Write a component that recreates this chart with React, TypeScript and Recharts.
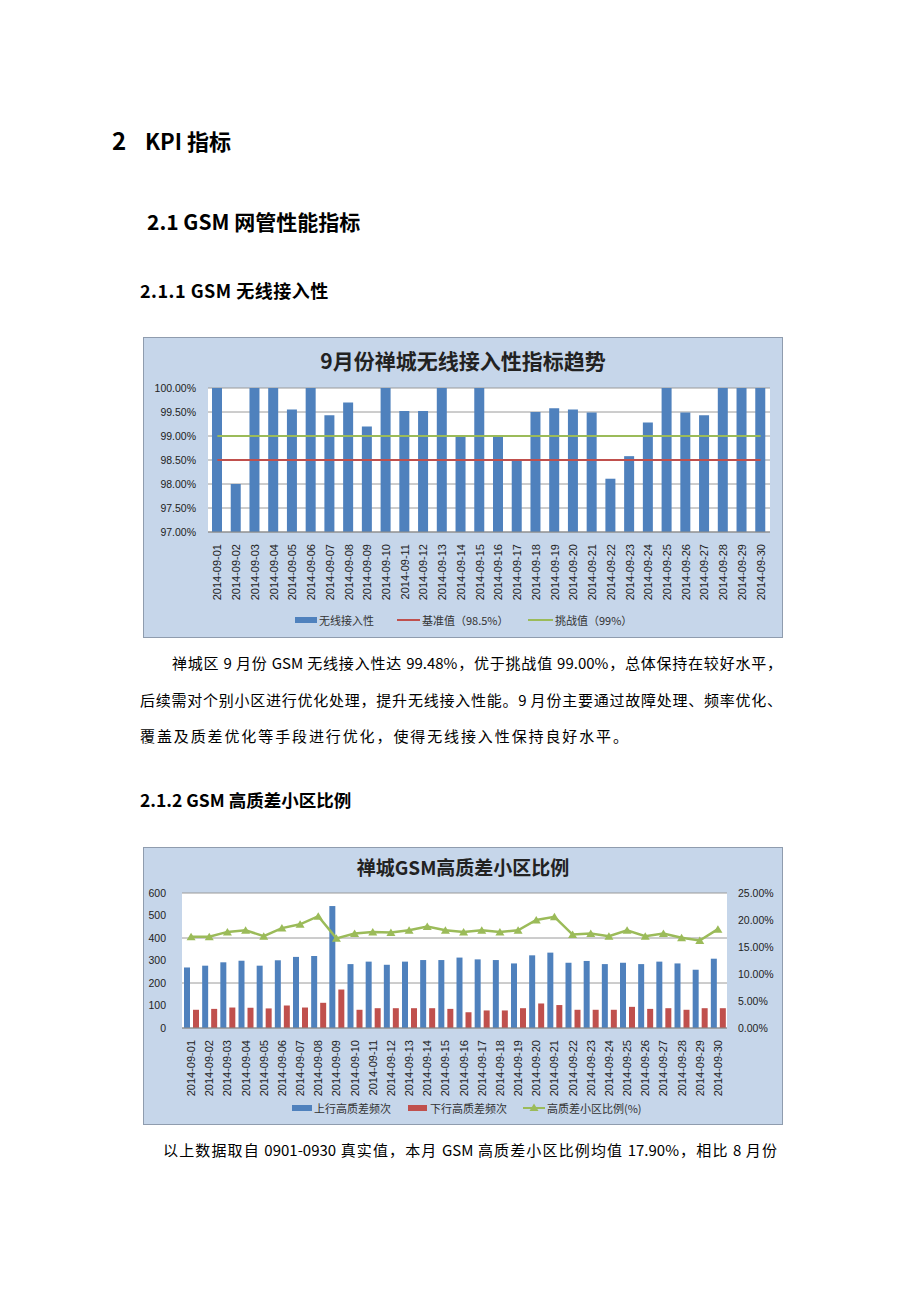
import React from 'react';
import { ComposedChart, Bar, Line, XAxis, YAxis, CartesianGrid, Legend } from 'recharts';

const dates = [
  '2014-09-01', '2014-09-02', '2014-09-03', '2014-09-04', '2014-09-05', '2014-09-06',
  '2014-09-07', '2014-09-08', '2014-09-09', '2014-09-10', '2014-09-11', '2014-09-12',
  '2014-09-13', '2014-09-14', '2014-09-15', '2014-09-16', '2014-09-17', '2014-09-18',
  '2014-09-19', '2014-09-20', '2014-09-21', '2014-09-22', '2014-09-23', '2014-09-24',
  '2014-09-25', '2014-09-26', '2014-09-27', '2014-09-28', '2014-09-29', '2014-09-30',
];

// Chart 1: wireless access rate (%)
const accessRate = [
  100, 98.0, 100, 100, 99.55, 100, 99.43, 99.7, 99.2, 100,
  99.52, 99.52, 100, 98.99, 100, 99.02, 98.5, 99.5, 99.58, 99.55,
  99.49, 98.11, 98.58, 99.28, 100, 99.49, 99.43, 100, 100, 100,
];
const BASELINE = 98.5;
const CHALLENGE = 99;
const yTicks1 = [97, 97.5, 98, 98.5, 99, 99.5, 100];

// Chart 2
const upFreq = [
  269, 277, 292, 299, 277, 301, 316, 320, 542, 284,
  295, 281, 295, 302, 302, 313, 305, 302, 287, 323,
  335, 290, 298, 284, 290, 284, 295, 287, 259, 308,
];
const downFreq = [
  81, 85, 91, 90, 87, 100, 91, 112, 171, 81,
  88, 88, 88, 88, 85, 70, 78, 78, 88, 109,
  102, 81, 81, 81, 94, 85, 88, 81, 88, 88,
];
const ratio = [
  16.9, 16.9, 17.8, 18.1, 17.0, 18.5, 19.2, 20.7, 16.6, 17.5,
  17.8, 17.7, 18.1, 18.8, 18.1, 17.8, 18.1, 17.8, 18.1, 20.0,
  20.6, 17.3, 17.5, 17.0, 18.1, 17.0, 17.5, 16.7, 16.2, 18.3,
];
const leftTicks2 = [0, 100, 200, 300, 400, 500, 600];
const rightTicks2 = [0, 5, 10, 15, 20, 25];

const data1 = dates.map((d, i) => ({ date: d, rate: accessRate[i], base: BASELINE, challenge: CHALLENGE }));
const data2 = dates.map((d, i) => ({ date: d, up: upFreq[i], down: downFreq[i], ratio: ratio[i] }));

const BLUE = '#4f81bd';
const RED = '#c0504d';
const GREEN = '#9bbb59';
const BG = '#c6d6ea';
const AXIS_FONT = "'Liberation Sans', Arial, sans-serif";
const CJK = "'Noto Sans CJK SC', sans-serif";

const RotTick = (props: any) => {
  const { x, y, payload } = props;
  return (
    <text
      x={x}
      y={y}
      transform={`rotate(-90 ${x} ${y})`}
      textAnchor="end"
      dominantBaseline="central"
      fontSize={11}
      fontFamily={AXIS_FONT}
      fill="#222"
    >
      {payload.value}
    </text>
  );
};

const Triangle = (props: any) => {
  const { cx, cy } = props;
  if (cx == null || cy == null) return null;
  return <polygon points={`${cx - 4.5},${cy + 3.5} ${cx + 4.5},${cy + 3.5} ${cx},${cy - 4}`} fill={GREEN} />;
};

const legendText: React.CSSProperties = {
  position: 'absolute',
  fontSize: 11,
  fontFamily: CJK,
  color: '#333',
  lineHeight: '14px',
  whiteSpace: 'nowrap',
};

const Legend1 = () => (
  <div style={{ position: 'relative', width: 638, height: 37 }}>
    <div style={{ position: 'absolute', left: 151, top: 17, width: 22, height: 6, background: BLUE }} />
    <div style={{ ...legendText, left: 175, top: 13 }}>无线接入性</div>
    <div style={{ position: 'absolute', left: 253, top: 19, width: 23, height: 2, background: RED }} />
    <div style={{ ...legendText, left: 278, top: 13 }}>基准值（98.5%）</div>
    <div style={{ position: 'absolute', left: 384, top: 19, width: 25, height: 2, background: GREEN }} />
    <div style={{ ...legendText, left: 411, top: 13 }}>挑战值（99%）</div>
  </div>
);

const Legend2 = () => (
  <div style={{ position: 'relative', width: 638, height: 31 }}>
    <div style={{ position: 'absolute', left: 148, top: 12, width: 20, height: 6, background: BLUE }} />
    <div style={{ ...legendText, left: 170, top: 8 }}>上行高质差频次</div>
    <div style={{ position: 'absolute', left: 264, top: 12, width: 19, height: 6, background: RED }} />
    <div style={{ ...legendText, left: 286, top: 8 }}>下行高质差频次</div>
    <div style={{ position: 'absolute', left: 379, top: 14, width: 22, height: 2, background: GREEN }} />
    <svg style={{ position: 'absolute', left: 385, top: 10 }} width={10} height={9}>
      <polygon points="0.5,8 9.5,8 5,0.5" fill={GREEN} />
    </svg>
    <div style={{ ...legendText, left: 403, top: 8 }}>高质差小区比例(%)</div>
  </div>
);

const abs = (left: number, top: number, extra: React.CSSProperties = {}): React.CSSProperties => ({
  position: 'absolute',
  left,
  top,
  whiteSpace: 'nowrap',
  color: '#000',
  ...extra,
});

const bodyLine = (left: number, top: number, width: number): React.CSSProperties => ({
  position: 'absolute',
  left,
  top,
  width,
  fontFamily: CJK,
  fontSize: 15,
  lineHeight: '20px',
  textAlign: 'justify',
  textAlignLast: 'justify',
  whiteSpace: 'nowrap',
  color: '#000',
});

export default function App() {
  return (
    <div style={{ position: 'absolute', left: 0, top: 0, width: 920, height: 1302, background: '#fff', overflow: 'hidden' }}>
      {/* Headings */}
      <div style={abs(112, 126, { fontFamily: CJK, fontWeight: 700, fontSize: 24, lineHeight: '28px' })}>2</div>
      <div style={abs(145, 126, { fontFamily: CJK, fontWeight: 700, fontSize: 22, lineHeight: '28px' })}>KPI 指标</div>

      <div style={abs(147, 207, { fontFamily: CJK, fontWeight: 700, fontSize: 21, lineHeight: '28px' })}>2.1 GSM 网管性能指标</div>

      <div style={abs(140, 277, { fontFamily: CJK, fontWeight: 700, fontSize: 18, lineHeight: '26px', letterSpacing: 0.5 })}>2.1.1 GSM 无线接入性</div>

      {/* Chart 1 */}
      <div style={{ position: 'absolute', left: 143, top: 337, width: 640, height: 301, background: BG, border: '1px solid #8f9cae', boxSizing: 'border-box' }}>
        <div style={{ position: 'absolute', left: 0, top: 8, width: 638, textAlign: 'center', fontFamily: CJK, fontWeight: 700, fontSize: 21, lineHeight: '28px', color: '#222' }}>
          9月份禅城无线接入性指标趋势
        </div>
        <ComposedChart width={638} height={299} data={data1} margin={{ top: 50, right: 12, left: 0, bottom: 0 }}>
          <CartesianGrid vertical={false} stroke="#9a9a9a" fill="#ffffff" />
          <XAxis
            dataKey="date"
            interval={0}
            tickLine={false}
            axisLine={{ stroke: '#8a8a8a' }}
            height={68}
            tick={<RotTick />}
            tickMargin={6}
          />
          <YAxis
            domain={[97, 100]}
            ticks={yTicks1}
            allowDataOverflow
            width={64}
            axisLine={false}
            tickLine={false}
            tickFormatter={(v: number) => `${v.toFixed(2)}%`}
            tick={{ fontSize: 10.5, fontFamily: AXIS_FONT, fill: '#222' }}
            tickMargin={6}
          />
          <Bar dataKey="rate" fill={BLUE} barSize={10} isAnimationActive={false} />
          <Line dataKey="base" stroke={RED} strokeWidth={2} dot={false} isAnimationActive={false} />
          <Line dataKey="challenge" stroke={GREEN} strokeWidth={2} dot={false} isAnimationActive={false} />
          <Legend verticalAlign="bottom" height={37} content={<Legend1 />} wrapperStyle={{ left: 0, bottom: 0, width: 638, height: 37 }} />
        </ComposedChart>
      </div>

      {/* Paragraph */}
      <div style={bodyLine(172, 653, 610)}>禅城区 9 月份 GSM 无线接入性达 99.48%，优于挑战值 99.00%，总体保持在较好水平，</div>
      <div style={bodyLine(140, 690, 642)}>后续需对个别小区进行优化处理，提升无线接入性能。9 月份主要通过故障处理、频率优化、</div>
      <div style={bodyLine(140, 726, 488)}>覆盖及质差优化等手段进行优化，使得无线接入性保持良好水平。</div>

      <div style={abs(140, 787, { fontFamily: CJK, fontWeight: 700, fontSize: 17.5, lineHeight: '26px' })}>2.1.2 GSM 高质差小区比例</div>

      {/* Chart 2 */}
      <div style={{ position: 'absolute', left: 143, top: 847, width: 640, height: 278, background: BG, border: '1px solid #8f9cae', boxSizing: 'border-box' }}>
        <div style={{ position: 'absolute', left: 0, top: 6, width: 638, textAlign: 'center', fontFamily: CJK, fontWeight: 700, fontSize: 19, lineHeight: '26px', color: '#222' }}>
          禅城GSM高质差小区比例
        </div>
        <ComposedChart width={638} height={276} data={data2} margin={{ top: 45, right: 0, left: 0, bottom: 0 }} barGap={3}>
          <CartesianGrid vertical={false} stroke="#9a9a9a" fill="#ffffff" yAxisId="left" />
          <XAxis
            dataKey="date"
            interval={0}
            tickLine={false}
            axisLine={{ stroke: '#8a8a8a' }}
            height={65}
            tick={<RotTick />}
            tickMargin={6}
          />
          <YAxis
            yAxisId="left"
            domain={[0, 600]}
            ticks={leftTicks2}
            width={38}
            axisLine={false}
            tickLine={false}
            tick={{ fontSize: 10.5, fontFamily: AXIS_FONT, fill: '#222' }}
            tickMargin={10}
          />
          <YAxis
            yAxisId="right"
            orientation="right"
            domain={[0, 25]}
            ticks={rightTicks2}
            width={55}
            axisLine={false}
            tickLine={false}
            tickFormatter={(v: number) => `${v.toFixed(2)}%`}
            tick={{ fontSize: 10.5, fontFamily: AXIS_FONT, fill: '#222' }}
            tickMargin={5}
          />
          <Bar yAxisId="left" dataKey="up" fill={BLUE} barSize={6} isAnimationActive={false} />
          <Bar yAxisId="left" dataKey="down" fill={RED} barSize={6} isAnimationActive={false} />
          <Line yAxisId="right" dataKey="ratio" stroke={GREEN} strokeWidth={2.5} dot={<Triangle />} isAnimationActive={false} />
          <Legend verticalAlign="bottom" height={31} content={<Legend2 />} wrapperStyle={{ left: 0, bottom: 0, width: 638, height: 31 }} />
        </ComposedChart>
      </div>

      <div style={bodyLine(163, 1140, 614)}>以上数据取自 0901-0930 真实值，本月 GSM 高质差小区比例均值 17.90%，相比 8 月份</div>
    </div>
  );
}
